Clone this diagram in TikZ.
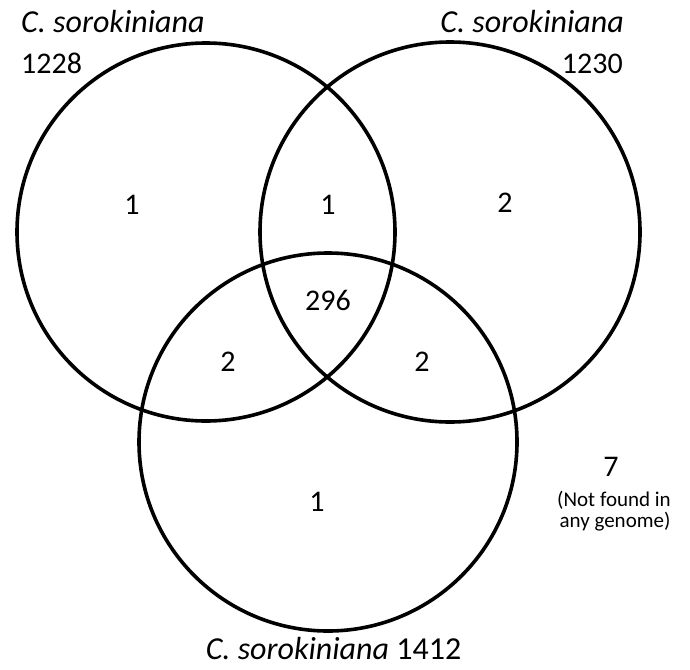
\documentclass[tikz,border=0pt]{standalone}
\usepackage{fontspec}
\setmainfont{Carlito}
\begin{document}
\begin{tikzpicture}[x=1pt,y=-1pt,
  venn/.style={draw=black,line width=3.6pt},
  big/.style={inner sep=0pt,font=\fontsize{30}{34}\selectfont},
  label/.style={inner sep=0pt,font=\fontsize{32}{36}\selectfont},
  small/.style={inner sep=0pt,font=\fontsize{21}{23}\selectfont}]
\useasboundingbox (0,0) rectangle (690,669);
\coordinate (cA) at (206,232);
\coordinate (cB) at (450,232);
\coordinate (cC) at (328,442);
\draw[venn] (cA) circle (189);
\draw[venn] (cB) circle (190);
\draw[venn] (cC) circle (189);
\node[label,anchor=base west] (nameA) at (21,33) {\textit{C. sorokiniana}};
\node[big,anchor=base west] (numA) at (21,74) {1228};
\node[label,anchor=base east] (nameB) at (624,33) {\textit{C. sorokiniana}};
\node[big,anchor=base east] (numB) at (623,74) {1230};
\node[big] (onlyA) at (132,205) {1};
\node[big] (AB) at (328,205) {1};
\node[big] (onlyB) at (505,203) {2};
\node[big] (ABC) at (328,300) {296};
\node[big] (AC) at (228,362) {2};
\node[big] (BC) at (422,362) {2};
\node[big] (onlyC) at (317,502) {1};
\node[big] (none) at (611,467) {7};
\node[small,anchor=base] (noneL1) at (614,506) {(Not found in};
\node[small,anchor=base] (noneL2) at (615,527) {any genome)};
\node[label,anchor=base] (nameC) at (333.5,659) {\textit{C. sorokiniana} 1412};
\end{tikzpicture}
\end{document}
